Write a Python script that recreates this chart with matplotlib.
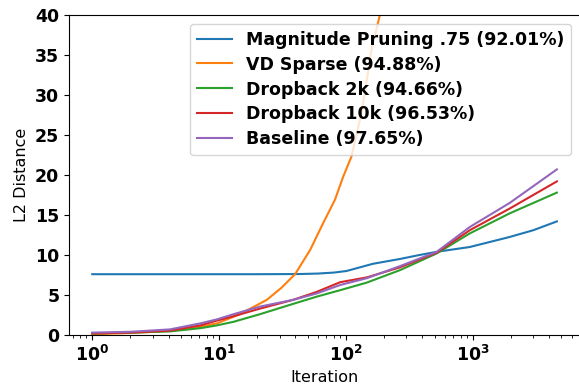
import matplotlib
matplotlib.use("Agg")
import matplotlib.pyplot as plt
from matplotlib.ticker import FuncFormatter, LogLocator
import numpy as np

# Magnitude Pruning .75
mag_x = [1, 5, 20, 43, 60, 80, 101, 163, 266, 380, 520, 947, 1950, 3000, 4600]
mag_y = [7.6, 7.6, 7.6, 7.62, 7.68, 7.8, 8.0, 8.9, 9.5, 10.0, 10.4, 11.0, 12.25, 13.1, 14.2]

# VD Sparse
vd_x = [1, 2, 4, 7, 9.6, 14.6, 23.8, 31, 39.7, 52.1, 66.2, 81.9, 95.2, 110.5, 133.7, 159, 185, 215]
vd_y = [0.1, 0.25, 0.5, 1.0, 1.45, 2.6, 4.4, 5.9, 7.6, 10.6, 14.0, 16.9, 19.8, 22.3, 28.0, 35.6, 40.0, 47.0]

# Dropback 2k
d2_x = [1, 2, 4.1, 7.1, 9.6, 13, 21, 38.5, 59, 90, 146, 266, 520, 947, 1950, 4600]
d2_y = [0.2, 0.3, 0.45, 0.85, 1.2, 1.65, 2.6, 3.9, 4.8, 5.6, 6.55, 8.1, 10.2, 12.7, 15.2, 17.8]

# Dropback 10k
d10_x = [1, 2, 4.1, 7.1, 9.6, 13, 21, 38.5, 59, 90, 146, 266, 520, 947, 1950, 4600]
d10_y = [0.2, 0.3, 0.55, 1.2, 1.8, 2.35, 3.3, 4.4, 5.4, 6.6, 7.2, 8.45, 10.3, 13.1, 15.8, 19.2]

# Baseline
base_x = [1, 2, 4.1, 7.1, 9.6, 13, 21, 38.5, 59, 90, 146, 266, 520, 947, 1950, 4600]
base_y = [0.3, 0.4, 0.7, 1.45, 1.95, 2.6, 3.55, 4.4, 5.2, 6.25, 7.1, 8.6, 10.4, 13.5, 16.5, 20.7]

labels = ["Magnitude Pruning .75 (92.01%)", "VD Sparse (94.88%)",
          "Dropback 2k (94.66%)", "Dropback 10k (96.53%)", "Baseline (97.65%)"]

fig = plt.figure(figsize=(5.79, 3.84), dpi=100)
ax = fig.add_axes([69/579, 49/384, 511/579, 320/384])

ax.plot(mag_x, mag_y, label=labels[0], color="#1f77b4")
ax.plot(vd_x, vd_y, label=labels[1], color="#ff7f0e")
ax.plot(d2_x, d2_y, label=labels[2], color="#2ca02c")
ax.plot(d10_x, d10_y, label=labels[3], color="#d62728")
ax.plot(base_x, base_y, label=labels[4], color="#9467bd")

ax.set_xscale("log")
ax.set_ylim(0, 40)
ax.set_xlim(10**-0.183, 10**3.845)
ax.xaxis.set_major_locator(LogLocator(base=10))
ax.xaxis.set_major_formatter(
    FuncFormatter(lambda v, p: r"$\mathbf{10^{%d}}$" % int(round(np.log10(v)))))
ax.set_xlabel("Iteration", fontsize=11.5)
ax.set_ylabel("L2 Distance", fontsize=11.5)
ax.tick_params(labelsize=12.5)
for lab in ax.get_xticklabels() + ax.get_yticklabels():
    lab.set_fontweight("bold")

ax.legend(loc="upper right", prop={"weight": "bold", "size": 12.5}, labelspacing=0.4)

fig.savefig("out.png", dpi=100)
